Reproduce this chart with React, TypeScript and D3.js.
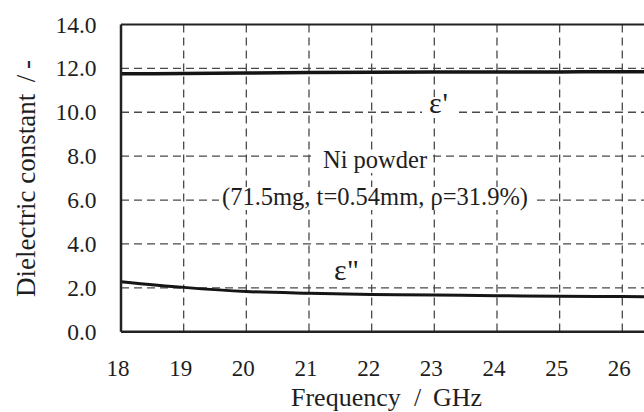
import React from "react";
import * as d3 from "d3";

// frequency points (GHz)
const freqs = [18, 19, 20, 21, 22, 23, 24, 25, 26, 27];
// real part of permittivity
const epsReal = [11.75, 11.77, 11.79, 11.81, 11.82, 11.83, 11.84, 11.84, 11.85, 11.85];
// imaginary part
const epsImag = [2.28, 2.02, 1.83, 1.75, 1.70, 1.67, 1.64, 1.62, 1.60, 1.59];

const xTicks = [18, 19, 20, 21, 22, 23, 24, 25, 26];
const yTicks = [0, 2, 4, 6, 8, 10, 12, 14];

const FONT = '"Liberation Serif", "Times New Roman", serif';
const W = 644;
const H = 412;
const margin = { top: 24.5, left: 121, bottom: 80.3 };

const x = d3.scaleLinear().domain([18, 26]).range([margin.left, 622.3]);
const y = d3.scaleLinear().domain([0, 14]).range([H - margin.bottom, margin.top]);

const line = d3
  .line<number>()
  .x((_, i) => x(freqs[i]))
  .y((d) => y(d))
  .curve(d3.curveMonotoneX);

const txt = { fontFamily: FONT, fill: "#1e1e1e" } as React.CSSProperties;
const grid = { stroke: "#4a4a4a", strokeWidth: 1.3, strokeDasharray: "8,5" };

const App = () => (
  <svg
    width={W}
    height={H}
    style={{ position: "absolute", left: 0, top: 0, background: "white" }}
  >
    {yTicks.filter((d) => d > 0 && d < 14).map((d) => (
      <line key={"h" + d} x1={x(18)} x2={W} y1={y(d)} y2={y(d)} {...grid} />
    ))}
    {xTicks.filter((d) => d > 18).map((d) => (
      <line key={"v" + d} x1={x(d)} x2={x(d)} y1={y(14)} y2={y(0)} {...grid} />
    ))}

    {/* annotations, white boxes hide the grid behind them */}
    <rect x={313} y={150} width={119} height={23} fill="white" />
    <text x={375} y={168} textAnchor="middle" fontSize={24.5} style={txt}>
      Ni powder
    </text>
    <rect x={219} y={187} width={314} height={23} fill="white" />
    <text x={375} y={205} textAnchor="middle" fontSize={24.5} style={txt}>
      (71.5mg, t=0.54mm, ρ=31.9%)
    </text>
    <rect x={422} y={97} width={36} height={21} fill="white" />
    <text x={429} y={113} fontSize={30} style={txt}>
      ε<tspan dx={1}>'</tspan>
    </text>
    <text x={334} y={280} fontSize={30} style={txt}>
      ε<tspan dx={1}>''</tspan>
    </text>

    {[epsReal, epsImag].map((vals, i) => (
      <path key={i} d={line(vals) || ""} fill="none" stroke="#151515" strokeWidth={i === 0 ? 3.5 : 3} />
    ))}

    {/* frame */}
    <line x1={x(18)} x2={W} y1={y(14)} y2={y(14)} stroke="#222" strokeWidth={2} />
    <line x1={x(18)} x2={W} y1={y(0)} y2={y(0)} stroke="#222" strokeWidth={2.5} />
    <line x1={x(18)} x2={x(18)} y1={y(14)} y2={y(0)} stroke="#222" strokeWidth={2.5} />

    {yTicks.map((d) => (
      <text key={"yl" + d} x={96.5} y={y(d) + 8} textAnchor="end" fontSize={23.5} style={txt}>
        {d3.format(".1f")(d)}
      </text>
    ))}
    {xTicks.map((d) => (
      <text key={"xl" + d} x={x(d) - 3} y={375.5} textAnchor="middle" fontSize={23} style={txt}>
        {d}
      </text>
    ))}

    {/* x title */}
    <text x={291} y={406} fontSize={26} style={txt}>Frequency</text>
    <text x={417.5} y={406} textAnchor="middle" fontSize={26} style={txt}>/</text>
    <text x={482} y={406} textAnchor="end" fontSize={26} style={txt}>GHz</text>

    {/* y title */}
    <text transform="translate(35,297) rotate(-90)" fontSize={27} style={txt}>
      Dielectric constant
    </text>
    <text transform="translate(35,78.5) rotate(-90)" textAnchor="middle" fontSize={27} style={txt}>
      /
    </text>
    <text transform="translate(35,64.5) rotate(-90)" textAnchor="middle" fontSize={27} style={txt}>
      -
    </text>
  </svg>
);

export default App;
